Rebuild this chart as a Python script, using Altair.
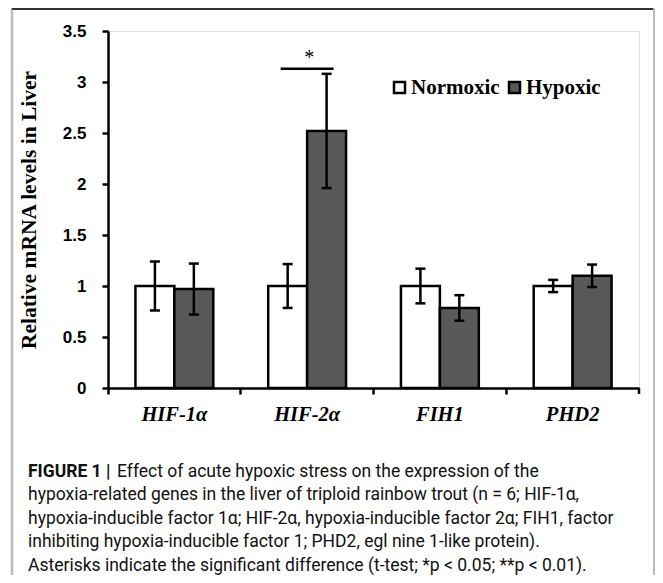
import altair as alt
import pandas as pd

genes = ["HIF-1α", "HIF-2α", "FIH1", "PHD2"]
groups = ["Normoxic", "Hypoxic"]
normoxic = [1.0, 1.0, 1.0, 1.0]
normoxic_err = [0.24, 0.215, 0.17, 0.06]
hypoxic = [0.97, 2.52, 0.785, 1.10]
hypoxic_err = [0.25, 0.56, 0.125, 0.11]

sig_gene = ["HIF-2α"]
sig_y = [3.13]
star_y = [3.18]
sig_label = ["*"]

y_title = "Relative mRNA levels in Liver"
caption_head = "FIGURE 1 |"
caption_lines = [
    "Effect of acute hypoxic stress on the expression of the",
    "hypoxia-related genes in the liver of triploid rainbow trout (n = 6; HIF-1α,",
    "hypoxia-inducible factor 1α; HIF-2α, hypoxia-inducible factor 2α; FIH1, factor",
    "inhibiting hypoxia-inducible factor 1; PHD2, egl nine 1-like protein).",
    "Asterisks indicate the significant difference (t-test; *p < 0.05; **p < 0.01).",
]

rows = []
for i, g in enumerate(genes):
    rows.append({"gene": g, "group": "Normoxic", "value": normoxic[i],
                 "lo": normoxic[i] - normoxic_err[i], "hi": normoxic[i] + normoxic_err[i]})
    rows.append({"gene": g, "group": "Hypoxic", "value": hypoxic[i],
                 "lo": hypoxic[i] - hypoxic_err[i], "hi": hypoxic[i] + hypoxic_err[i]})
df = pd.DataFrame(rows)

W, H = 531, 357

xenc = alt.X("gene:N", sort=genes,
             scale=alt.Scale(domain=genes, paddingInner=0, paddingOuter=0),
             axis=alt.Axis(title=None, bandPosition=0, labelFont="Liberation Serif",
                           labelFontWeight="bold", labelFontStyle="italic", labelFontSize=20.5,
                           labelColor="black", labelPadding=10, labelAngle=0,
                           domainColor="black", domainWidth=2.5, tickColor="black",
                           tickWidth=2.5, tickSize=6))
xsimple = alt.X("gene:N", sort=genes)
xoff = alt.XOffset("group:N", sort=groups,
                   scale=alt.Scale(domain=groups, paddingInner=0, paddingOuter=0.705))

yenc = alt.Y("value:Q", scale=alt.Scale(domain=[0, 3.5]), title=y_title,
             axis=alt.Axis(title=y_title, values=[0, 0.5, 1, 1.5, 2, 2.5, 3, 3.5],
                           format="~g", grid=False, labelFont="Liberation Sans",
                           labelFontWeight="bold", labelFontSize=17, labelColor="black",
                           labelPadding=16, domainColor="black", domainWidth=2.5,
                           tickColor="black", tickWidth=2.5, tickSize=6,
                           titleFont="Liberation Serif", titleFontWeight="bold",
                           titleFontSize=21.5, titleColor="black", titlePadding=22))

base = alt.Chart(df)

bars = base.mark_bar(stroke="black", strokeWidth=2.5).encode(
    x=xenc, xOffset=xoff, y=yenc,
    color=alt.Color("group:N", sort=groups,
                    scale=alt.Scale(domain=groups, range=["#ffffff", "#595959"]),
                    legend=alt.Legend(title=None, orient="none", legendX=281, legendY=46,
                                      direction="horizontal", symbolType="square",
                                      symbolSize=121, symbolStrokeColor="black",
                                      symbolStrokeWidth=2.5, labelFont="Liberation Serif",
                                      labelFontWeight="bold", labelFontSize=21,
                                      labelColor="black", labelOffset=1, columnPadding=4)),
)

err = base.mark_rule(color="black", strokeWidth=2.5).encode(
    x=xsimple, xOffset=xoff, y=alt.Y("lo:Q", title=y_title), y2="hi:Q")
cap_lo = base.mark_tick(color="black", thickness=2.5, size=10, orient="horizontal", opacity=1).encode(
    x=xsimple, xOffset=xoff, y=alt.Y("lo:Q", title=y_title))
cap_hi = base.mark_tick(color="black", thickness=2.5, size=10, orient="horizontal", opacity=1).encode(
    x=xsimple, xOffset=xoff, y=alt.Y("hi:Q", title=y_title))

sig_df = pd.DataFrame({"gene": sig_gene, "y": sig_y, "ys": star_y, "label": sig_label})
sig_line = alt.Chart(sig_df).mark_tick(color="black", thickness=2.5, size=53,
                                       orient="horizontal", opacity=1).encode(
    x=xsimple, y=alt.Y("y:Q", title=y_title))
sig_star = alt.Chart(sig_df).mark_text(font="Liberation Serif", fontSize=20, color="black",
                                       baseline="alphabetic", dx=2).encode(
    x=xsimple, y=alt.Y("ys:Q", title=y_title), text="label:N")

end_tick = alt.Chart(sig_df).mark_rule(color="black", strokeWidth=2.5).encode(
    x=alt.value(W), y=alt.value(H), y2=alt.value(H + 6))

# caption
CF = "Roboto"
CS = 17.5
CC = "#111111"
cap_layers = [alt.Chart(pd.DataFrame({"t": [caption_head]})).mark_text(
    font=CF, fontWeight="bold", fontSize=CS, color=CC, align="left",
    baseline="middle").encode(x=alt.value(-80), y=alt.value(441), text="t:N")]
for i, line in enumerate(caption_lines):
    cap_layers.append(alt.Chart(pd.DataFrame({"t": [line]})).mark_text(
        font=CF, fontSize=CS, color=CC, align="left", baseline="middle").encode(
        x=alt.value(9 if i == 0 else -80), y=alt.value(441 + 23.4 * i), text="t:N"))

# figure border
b_left = alt.Chart(sig_df).mark_rule(color="#bbbbbb", strokeWidth=2.5).encode(
    x=alt.value(-96), y=alt.value(-23), y2=alt.value(544))
b_top = alt.Chart(sig_df).mark_rule(color="#333333", strokeWidth=2).encode(
    x=alt.value(-96), x2=alt.value(546), y=alt.value(-22))
b_right = alt.Chart(sig_df).mark_rule(color="#bbbbbb", strokeWidth=2).encode(
    x=alt.value(546), y=alt.value(-23), y2=alt.value(544))

chart = alt.layer(
    bars, err, cap_lo, cap_hi, sig_line, sig_star, end_tick,
    *cap_layers, b_left, b_top, b_right
).properties(
    width=W, height=H,
    autosize=alt.AutoSizeParams(type="none"),
    padding={"left": 100, "top": 23, "right": 16, "bottom": 187},
).configure_view(stroke=None).configure(background="white")

chart.save("out.html", embed_options={"renderer": "svg", "actions": False})
